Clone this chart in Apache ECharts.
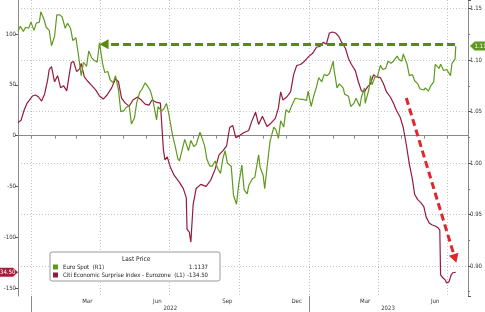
<!DOCTYPE html>
<html><head><meta charset="utf-8">
<script src="https://cdn.jsdelivr.net/npm/echarts@6/dist/echarts.min.js"></script>
<style>html,body{margin:0;padding:0;background:#fff;overflow:hidden}#c{width:485px;height:312px}</style>
</head><body><div id="c"></div>
<script>
// ---- data ----
const seriesNames = ['Euro Spot  (R1)', 'Citi Economic Surprise Index - Eurozone  (L1)'];
const lastPrices = ['1.1137', '-134.50'];
const lastValues = [1.1137, -134.5];

const euroDates = ['2021-12-14','2021-12-17','2021-12-21','2021-12-24','2021-12-28','2021-12-31','2022-01-04','2022-01-07','2022-01-11','2022-01-13','2022-01-17','2022-01-20','2022-01-24','2022-01-27','2022-01-31','2022-02-03','2022-02-07','2022-02-10','2022-02-14','2022-02-17','2022-02-21','2022-02-24','2022-02-28','2022-03-03','2022-03-07','2022-03-10','2022-03-14','2022-03-17','2022-03-21','2022-03-24','2022-03-28','2022-03-31','2022-04-04','2022-04-07','2022-04-11','2022-04-14','2022-04-18','2022-04-21','2022-04-25','2022-04-28','2022-05-02','2022-05-05','2022-05-09','2022-05-12','2022-05-16','2022-05-19','2022-05-23','2022-05-26','2022-05-30','2022-06-02','2022-06-06','2022-06-09','2022-06-14','2022-06-16','2022-06-20','2022-06-23','2022-06-27','2022-06-30','2022-07-05','2022-07-08','2022-07-12','2022-07-14','2022-07-18','2022-07-21','2022-07-26','2022-07-29','2022-08-02','2022-08-05','2022-08-10','2022-08-12','2022-08-16','2022-08-19','2022-08-23','2022-08-26','2022-08-30','2022-09-02','2022-09-06','2022-09-09','2022-09-12','2022-09-15','2022-09-20','2022-09-23','2022-09-27','2022-09-30','2022-10-04','2022-10-07','2022-10-11','2022-10-13','2022-10-18','2022-10-21','2022-10-26','2022-10-28','2022-11-01','2022-11-03','2022-11-07','2022-11-10','2022-11-15','2022-11-18','2022-11-21','2022-11-24','2022-11-28','2022-12-01','2022-12-05','2022-12-08','2022-12-13','2022-12-15','2022-12-20','2022-12-23','2022-12-28','2022-12-30','2023-01-03','2023-01-06','2023-01-10','2023-01-13','2023-01-17','2023-01-20','2023-01-24','2023-01-27','2023-02-01','2023-02-02','2023-02-06','2023-02-09','2023-02-14','2023-02-16','2023-02-21','2023-02-24','2023-02-28','2023-03-03','2023-03-08','2023-03-10','2023-03-14','2023-03-15','2023-03-20','2023-03-22','2023-03-24','2023-03-28','2023-03-31','2023-04-04','2023-04-07','2023-04-11','2023-04-14','2023-04-18','2023-04-21','2023-04-26','2023-04-28','2023-05-02','2023-05-04','2023-05-09','2023-05-12','2023-05-16','2023-05-19','2023-05-23','2023-05-26','2023-05-31','2023-06-02','2023-06-06','2023-06-09','2023-06-13','2023-06-15','2023-06-20','2023-06-22','2023-06-26','2023-06-28','2023-06-30','2023-07-05','2023-07-07','2023-07-11','2023-07-12'];
const euroValues = [1.128,1.133,1.128,1.132,1.131,1.137,1.129,1.136,1.137,1.147,1.140,1.132,1.129,1.114,1.123,1.144,1.144,1.142,1.131,1.136,1.131,1.119,1.122,1.107,1.085,1.098,1.094,1.109,1.102,1.100,1.098,1.117,1.097,1.088,1.089,1.081,1.078,1.085,1.071,1.050,1.051,1.054,1.056,1.038,1.044,1.059,1.069,1.072,1.078,1.075,1.070,1.062,1.042,1.055,1.051,1.052,1.058,1.048,1.027,1.018,1.004,1.002,1.014,1.023,1.012,1.022,1.016,1.018,1.030,1.026,1.017,1.004,0.997,0.997,1.002,0.995,0.990,1.004,1.012,1.000,0.997,0.969,0.960,0.980,0.998,0.974,0.970,0.978,0.985,0.986,1.008,0.996,0.988,0.975,1.002,1.021,1.035,1.032,1.024,1.041,1.035,1.052,1.049,1.055,1.063,1.063,1.062,1.062,1.061,1.070,1.055,1.064,1.074,1.083,1.079,1.086,1.085,1.087,1.099,1.091,1.073,1.077,1.073,1.067,1.065,1.055,1.058,1.063,1.055,1.064,1.073,1.058,1.072,1.085,1.076,1.084,1.084,1.095,1.091,1.092,1.099,1.097,1.099,1.104,1.101,1.099,1.106,1.096,1.085,1.086,1.080,1.077,1.072,1.071,1.073,1.070,1.075,1.079,1.096,1.092,1.096,1.090,1.091,1.091,1.085,1.097,1.101,1.1137];

const citiDates = ['2021-12-14','2021-12-18','2021-12-22','2021-12-26','2021-12-30','2022-01-02','2022-01-06','2022-01-10','2022-01-14','2022-01-18','2022-01-22','2022-01-24','2022-01-27','2022-01-31','2022-02-04','2022-02-08','2022-02-12','2022-02-16','2022-02-20','2022-02-22','2022-02-25','2022-03-01','2022-03-05','2022-03-07','2022-03-11','2022-03-15','2022-03-20','2022-03-26','2022-03-31','2022-04-05','2022-04-10','2022-04-16','2022-04-21','2022-04-25','2022-04-29','2022-05-04','2022-05-09','2022-05-14','2022-05-20','2022-05-25','2022-05-30','2022-06-04','2022-06-08','2022-06-13','2022-06-19','2022-06-23','2022-06-25','2022-06-28','2022-07-02','2022-07-07','2022-07-14','2022-07-19','2022-07-23','2022-07-24','2022-07-27','2022-07-29','2022-08-01','2022-08-05','2022-08-11','2022-08-18','2022-08-24','2022-08-30','2022-09-04','2022-09-09','2022-09-14','2022-09-18','2022-09-22','2022-09-26','2022-10-01','2022-10-07','2022-10-13','2022-10-17','2022-10-22','2022-10-26','2022-10-31','2022-11-06','2022-11-11','2022-11-17','2022-11-21','2022-11-24','2022-11-27','2022-12-02','2022-12-07','2022-12-11','2022-12-15','2022-12-20','2022-12-25','2022-12-31','2023-01-05','2023-01-10','2023-01-15','2023-01-19','2023-01-23','2023-01-27','2023-01-31','2023-02-04','2023-02-08','2023-02-12','2023-02-17','2023-02-21','2023-02-25','2023-03-02','2023-03-06','2023-03-10','2023-03-14','2023-03-18','2023-03-22','2023-03-26','2023-03-29','2023-04-04','2023-04-08','2023-04-12','2023-04-17','2023-04-21','2023-04-25','2023-04-30','2023-05-04','2023-05-08','2023-05-12','2023-05-16','2023-05-19','2023-05-23','2023-05-27','2023-05-31','2023-06-03','2023-06-07','2023-06-11','2023-06-15','2023-06-19','2023-06-21','2023-06-22','2023-06-25','2023-06-28','2023-06-30','2023-07-03','2023-07-06','2023-07-08','2023-07-12'];
const citiValues = [13,15,25,32,36,39,40,38,34,41,55,65,68,53,59,47,49,44,63,72,73,63,66,71,58,54,50,45,39,36,40,47,56,53,37,32,29,35,38,35,31,30,35,33,32,-14,-24,-21,-31,-39,-46,-52,-61,-92,-95,-105,-68,-52,-48,-50,-44,-33,-19,-15,-10,8,10,-2,0,3,5,14,23,11,19,9,12,17,27,43,35,38,43,60,69,70,73,78,81,87,88,92,90,101,102,101,98,92,86,76,70,64,53,44,43,48,51,60,58,57,51,43,38,32,25,18,8,-9,-28,-43,-58,-63,-66,-70,-80,-86,-88,-89,-91,-93,-137,-140,-142,-145,-144,-137,-135,-134.5];

// axis labels
const monthTicks = ['2022-03-15','2022-06-15','2022-09-15','2022-12-15','2023-03-15','2023-06-15'];
const monthNames = ['Mar','Jun','Sep','Dec','Mar','Jun'];
const yearTicks = ['2022-07-02','2023-04-14'];
const yearNames = ['2022','2023'];
const yearBreaks = ['2022-01-01','2023-01-01'];

// annotation arrows (data coordinates)
const greenArrow = [['2023-07-11', 1.1155], ['2022-04-06', 1.1155]];
const redArrow = [['2023-05-08', 37], ['2023-07-11', -121]];

// ---- build ----
const days = [];
for (let t = Date.UTC(2021, 11, 14); t <= Date.UTC(2023, 6, 28); t += 86400000) {
  days.push(new Date(t).toISOString().slice(0, 10));
}
const firstDay = days[0], lastDay = days[days.length - 1];
const zip = (a, b) => a.map((d, i) => [d, b[i]]);
const FONT = "'DejaVu Sans Condensed','DejaVu Sans',sans-serif";
const GREEN = '#5f9a1e', RED = '#951a3c';
const axisGray = '#8a8a8a';

const chart = echarts.init(document.getElementById('c'), null, { renderer: 'canvas' });
chart.setOption({
  animation: false,
  backgroundColor: '#fff',
  textStyle: { fontFamily: FONT },
  grid: { left: 18, right: 15, top: 0, bottom: 16, containLabel: false },
  title: {
    text: 'Last Price', left: 122, top: 256, padding: 0,
    textStyle: { fontSize: 6.5, fontWeight: 'normal', color: '#222', fontFamily: FONT }
  },
  legend: {
    left: 50, top: 252, orient: 'vertical',
    padding: [12, 12, 3, 3], itemGap: 2, itemWidth: 5, itemHeight: 5, icon: 'rect',
    backgroundColor: '#fff', borderColor: '#9a9a9a', borderWidth: 1, borderRadius: 2,
    data: seriesNames,
    formatter: name => '{n|' + name + '}{v|' + lastPrices[seriesNames.indexOf(name)] + '}',
    textStyle: {
      fontSize: 6, color: '#222', fontFamily: FONT,
      rich: { n: { width: 118, fontSize: 6, fontFamily: FONT }, v: { width: 27, align: 'right', fontSize: 6, fontFamily: FONT } }
    }
  },
  xAxis: [{
    type: 'category', data: days, boundaryGap: false, position: 'bottom',
    axisLine: { lineStyle: { color: axisGray } },
    axisTick: { show: true, length: 3, interval: (i, v) => v.slice(8) === '01', lineStyle: { color: axisGray } },
    axisLabel: {
      interval: (i, v) => monthTicks.indexOf(v) >= 0,
      formatter: v => monthNames[monthTicks.indexOf(v)],
      fontSize: 6, margin: 2, color: '#333', fontFamily: FONT
    },
    splitLine: {
      show: true,
      interval: (i, v) => v.slice(8) === '01' && ['01', '04', '07', '10'].indexOf(v.slice(5, 7)) >= 0,
      lineStyle: { color: '#c4c4c4', type: [1, 2], width: 1 }
    }
  }, {
    type: 'category', data: days, boundaryGap: false, position: 'bottom',
    axisLine: { show: false },
    axisTick: { show: true, length: 16, interval: (i, v) => yearBreaks.indexOf(v) >= 0, lineStyle: { color: axisGray } },
    axisLabel: {
      interval: (i, v) => yearTicks.indexOf(v) >= 0,
      formatter: v => yearNames[yearTicks.indexOf(v)],
      fontSize: 6, margin: 9, color: '#333', fontFamily: FONT
    },
    splitLine: { show: false }
  }],
  yAxis: [{
    type: 'value', position: 'left', min: -157.9, max: 133.5, minInterval: 50, maxInterval: 50,
    axisLine: { show: true, lineStyle: { color: axisGray } },
    axisTick: { show: true, length: 3, lineStyle: { color: '#555' } },
    axisLabel: { fontSize: 6, margin: 2, color: '#333', showMinLabel: false, showMaxLabel: false, fontFamily: FONT },
    splitLine: { show: false }
  }, {
    type: 'value', position: 'right', min: 0.8708, max: 1.1585, minInterval: 0.05, maxInterval: 0.05,
    axisLine: { show: true, lineStyle: { color: axisGray } },
    axisTick: { show: true, length: 3, lineStyle: { color: '#555' } },
    minorTick: { show: true, splitNumber: 2, length: 2, lineStyle: { color: '#777' } },
    axisLabel: { fontSize: 6, margin: 2, color: '#333', showMinLabel: false, showMaxLabel: false, formatter: v => v.toFixed(2), fontFamily: FONT },
    splitLine: { show: true, showMinLine: false, showMaxLine: false, lineStyle: { color: '#c4c4c4', type: [1, 2], width: 1 } }
  }],
  series: [{
    name: seriesNames[1], type: 'line', xAxisIndex: 0, yAxisIndex: 0,
    data: zip(citiDates, citiValues), showSymbol: false, symbol: 'none',
    lineStyle: { color: RED, width: 1.2 }, itemStyle: { color: RED },
    markLine: {
      silent: true, symbol: ['none', 'triangle'], symbolSize: [10, 9], label: { show: false },
      lineStyle: { color: '#e3262c', width: 3, type: [7, 4] },
      data: [[{ coord: redArrow[0] }, { coord: redArrow[1] }]]
    },
    markPoint: {
      silent: true,
      data: [{ coord: [firstDay, lastValues[1]] }],
      symbol: 'path://M0,0L25,0L30,5L25,10L0,10Z', symbolSize: [30, 9], symbolOffset: [-15, 0],
      itemStyle: { color: '#a3203c' },
      label: { show: true, position: 'inside', offset: [2, 0], formatter: () => lastPrices[1], color: '#fff', fontSize: 6, fontFamily: FONT }
    }
  }, {
    name: seriesNames[0], type: 'line', xAxisIndex: 0, yAxisIndex: 1,
    data: zip(euroDates, euroValues), showSymbol: false, symbol: 'none',
    lineStyle: { color: GREEN, width: 1.2 }, itemStyle: { color: GREEN },
    markLine: {
      silent: true, symbol: ['none', 'triangle'], symbolSize: [10, 9], label: { show: false },
      lineStyle: { color: '#588a0c', width: 3, type: [8, 4] },
      data: [[{ coord: greenArrow[0] }, { coord: greenArrow[1] }]]
    },
    markPoint: {
      silent: true,
      data: [{ coord: [lastDay, lastValues[0]] }],
      symbol: 'path://M0,5L5,0L30,0L30,10L5,10Z', symbolSize: [28, 9], symbolOffset: [16, 0],
      itemStyle: { color: GREEN },
      label: { show: true, position: 'inside', formatter: () => lastPrices[0], color: '#fff', fontSize: 6, fontFamily: FONT }
    }
  }]
});
</script></body></html>
